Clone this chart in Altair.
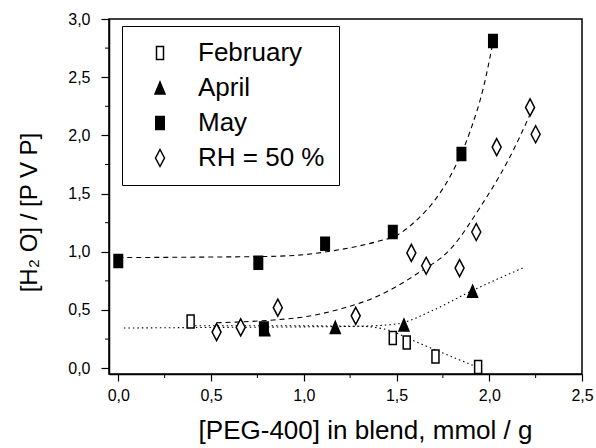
import altair as alt
import pandas as pd

# ---- measured points ----
feb_x = [0.39, 1.48, 1.555, 1.71, 1.94]
feb_y = [0.40, 0.26, 0.22, 0.10, 0.01]
apr_x = [0.79, 1.17, 1.54, 1.91]
apr_y = [0.33, 0.35, 0.37, 0.66]
may_x = [0.0, 0.755, 0.785, 1.115, 1.48, 1.85, 2.02]
may_y = [0.92, 0.905, 0.34, 1.07, 1.17, 1.84, 2.81]
rh_x = [0.53, 0.66, 0.86, 1.28, 1.58, 1.66, 1.84, 1.93, 2.04, 2.22, 2.25]
rh_y = [0.31, 0.35, 0.52, 0.45, 0.99, 0.88, 0.86, 1.17, 1.90, 2.24, 2.01]

# ---- fitted curves ----
may_fit_x = [0.0, 0.5, 0.8, 1.0, 1.2, 1.4, 1.5, 1.6, 1.7, 1.8, 1.9, 1.97, 2.02]
may_fit_y = [0.95, 0.955, 0.96, 0.975, 1.02, 1.09, 1.14, 1.26, 1.43, 1.68, 2.05, 2.42, 2.8]
rh_fit_x = [0.53, 0.8, 1.0, 1.2, 1.4, 1.6, 1.8, 1.95, 2.1, 2.24]
rh_fit_y = [0.39, 0.41, 0.44, 0.51, 0.62, 0.80, 1.04, 1.38, 1.78, 2.25]
apr_fit_x = [0.03, 0.5, 1.0, 1.3, 1.5, 1.7, 1.9, 2.18]
apr_fit_y = [0.345, 0.35, 0.355, 0.36, 0.38, 0.50, 0.66, 0.86]
feb_fit_x = [0.39, 0.8, 1.3, 1.45, 1.6, 1.75, 1.95]
feb_fit_y = [0.365, 0.365, 0.36, 0.33, 0.23, 0.13, 0.0]

series = ["February", "April", "May", "RH = 50 %"]
shapes = [
    "M-0.7,-1.3L0.7,-1.3L0.7,1.3L-0.7,1.3Z",
    "M0,-1.2L1,1.2L-1,1.2Z",
    "M-0.85,-1.3L0.85,-1.3L0.85,1.3L-0.85,1.3Z",
    "M0,-1.7L0.9,0L0,1.7L-0.9,0Z",
]
fills = ["white", "black", "black", "white"]
strokes = ["black", "black", "black", "black"]

x_minor = [0.25, 0.75, 1.25, 1.75, 2.25]
y_minor = [0.25, 0.75, 1.25, 1.75, 2.25, 2.75]

pts = pd.concat([
    pd.DataFrame({"x": feb_x, "y": feb_y, "s": series[0]}),
    pd.DataFrame({"x": apr_x, "y": apr_y, "s": series[1]}),
    pd.DataFrame({"x": may_x, "y": may_y, "s": series[2]}),
    pd.DataFrame({"x": rh_x, "y": rh_y, "s": series[3]}),
])

W, H = 473, 355
FONT = "Liberation Sans"
lab_expr = "replace(format(datum.value, '.1f'), '.', ',')"

xs = alt.Scale(domain=[-0.05, 2.5], nice=False, zero=False)
ys = alt.Scale(domain=[-0.05, 3.0], nice=False, zero=False)

xaxis = alt.Axis(values=[0, 0.5, 1.0, 1.5, 2.0, 2.5], labelExpr=lab_expr,
                 title="[PEG-400] in blend, mmol / g", grid=False,
                 titleX=256, titleY=56, titleBaseline="middle",
                 labelFontSize=16, titleFontSize=26, labelPadding=6,
                 tickSize=7, labelFlush=False)
yaxis = alt.Axis(values=[0, 0.5, 1.0, 1.5, 2.0, 2.5, 3.0], labelExpr=lab_expr,
                 title="[H₂ O] / [P V P]", grid=False,
                 titleX=-80, titleY=193, titleAngle=-90, titleAlign="center",
                 titleBaseline="middle",
                 labelFontSize=16, titleFontSize=24, labelPadding=11,
                 tickSize=8, labelFlush=False)

legend = alt.Legend(
    title=None, orient="none", legendX=13, legendY=7,
    direction="vertical",
    strokeColor="black", fillColor="white", padding=14,
    labelFontSize=26, labelFont=FONT, labelLimit=300,
    symbolSize=100, symbolStrokeWidth=1.5, symbolOffset=11,
    labelOffset=25, rowPadding=9,
)


def curve(xv, yv, dash):
    d = pd.DataFrame({"x": xv, "y": yv})
    return alt.Chart(d).mark_line(color="black", strokeWidth=1.1,
                                  strokeDash=dash, interpolate="monotone").encode(
        x=alt.X("x:Q", scale=xs, axis=xaxis),
        y=alt.Y("y:Q", scale=ys, axis=yaxis),
    )


lines = (curve(may_fit_x, may_fit_y, [5, 4])
         + curve(rh_fit_x, rh_fit_y, [5, 4])
         + curve(apr_fit_x, apr_fit_y, [1.5, 3])
         + curve(feb_fit_x, feb_fit_y, [1.5, 3]))

points = alt.Chart(pts).mark_point(filled=True, size=100,
                                   strokeWidth=1.5, opacity=1).encode(
    x=alt.X("x:Q", scale=xs, axis=xaxis),
    y=alt.Y("y:Q", scale=ys, axis=yaxis),
    shape=alt.Shape("s:N", scale=alt.Scale(domain=series, range=shapes), legend=legend),
    fill=alt.Fill("s:N", scale=alt.Scale(domain=series, range=fills), legend=legend),
    stroke=alt.Stroke("s:N", scale=alt.Scale(domain=series, range=strokes), legend=legend),
)

xminor = alt.Chart(pd.DataFrame({"x": x_minor})).mark_rule(
    color="black", strokeWidth=1).encode(
    x=alt.X("x:Q", scale=xs, axis=xaxis), y=alt.value(H), y2=alt.value(H + 4))
yminor = alt.Chart(pd.DataFrame({"y": y_minor})).mark_rule(
    color="black", strokeWidth=1).encode(
    y=alt.Y("y:Q", scale=ys, axis=yaxis), x=alt.value(0), x2=alt.value(-4))

chart = alt.layer(lines, points, xminor, yminor).properties(
    width=W, height=H,
    autosize=alt.AutoSizeParams(type="none"),
    padding={"left": 109, "top": 19, "right": 14, "bottom": 74},
    background="white",
).configure_view(stroke="black", strokeWidth=1.5).configure_axis(
    domainColor="black", domainWidth=1.5, tickColor="black", tickWidth=1.2,
    labelColor="black", titleColor="black", labelFont=FONT, titleFont=FONT,
    titleFontWeight="normal",
).configure_legend(labelColor="black")

chart.save("out.html", embed_options={"renderer": "svg", "actions": False})
